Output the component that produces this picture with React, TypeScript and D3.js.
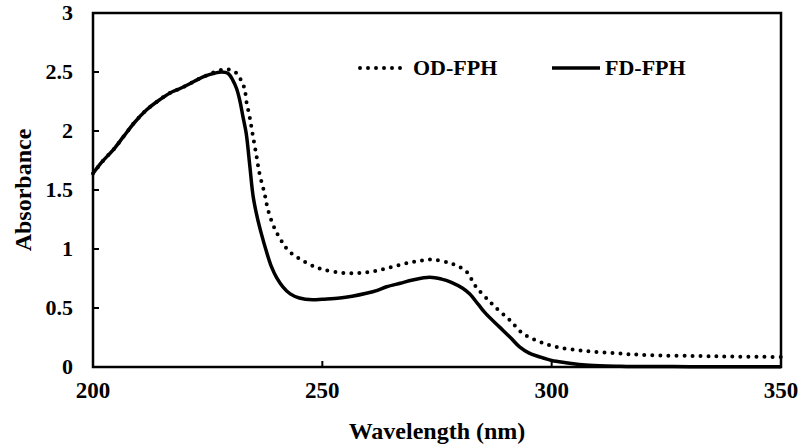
import React from "react";
import * as d3 from "d3";

const fdWavelength = [200,202,204.4,206.6,209,211.7,214,216.7,219,221.1,223,224.7,226.5,228,229.4,230.5,231.3,232,232.7,233.4,234.2,234.9,235.8,236.7,237.8,238.9,240,241.4,243,245,247.9,250,253.8,256.5,259.6,262,264,267,269.7,273.4,276,278,280.6,282.1,284,285.7,288.6,291,293,295,297.3,300,303.1,306,310.4,315,320,330,340,350];
const fdAbsorbance = [1.64,1.74,1.84,1.95,2.07,2.18,2.25,2.32,2.36,2.40,2.44,2.47,2.49,2.50,2.49,2.43,2.36,2.26,2.12,1.98,1.70,1.45,1.27,1.13,0.98,0.85,0.76,0.68,0.62,0.585,0.57,0.575,0.585,0.60,0.625,0.65,0.68,0.71,0.737,0.76,0.745,0.72,0.667,0.62,0.53,0.45,0.34,0.25,0.17,0.12,0.087,0.055,0.036,0.022,0.01,0.006,0.004,0.003,0.003,0.003];

const odWavelength = [200,202,204.4,206.6,209,211.7,214,216.7,219,221.1,223,224.7,226.5,228.3,229.8,231.3,232.4,233.1,233.4,234.2,234.9,235.6,236.3,237.4,238.1,239.2,240.3,241.4,242.5,244.3,246.2,248,249.8,253.8,257.8,261.8,265.8,269.8,273.7,277.5,279.5,281.4,283.5,286.1,287.9,290.8,293.7,297.3,301,306.8,314,321.3,331.5,340,350];
const odAbsorbance = [1.64,1.74,1.84,1.95,2.07,2.18,2.25,2.32,2.36,2.40,2.44,2.47,2.50,2.52,2.52,2.49,2.42,2.35,2.26,2.11,1.95,1.80,1.64,1.47,1.34,1.21,1.12,1.05,0.99,0.935,0.89,0.856,0.83,0.80,0.795,0.815,0.855,0.89,0.91,0.885,0.855,0.81,0.68,0.57,0.50,0.40,0.285,0.215,0.17,0.138,0.116,0.10,0.093,0.088,0.085];

const xTicks = [200, 250, 300, 350];
const yTicks = [0, 0.5, 1, 1.5, 2, 2.5, 3];
const seriesNames = ["OD-FPH", "FD-FPH"];

const W = 799, H = 445;
const left = 93, right = 781, top = 13, bottom = 367;
const FONT = "'Liberation Serif', 'Times New Roman', serif";

export default function App() {
  const x = d3.scaleLinear().domain([200, 350]).range([left, right]);
  const y = d3.scaleLinear().domain([0, 3]).range([bottom, top]);
  const line = d3.line<[number, number]>()
    .x(d => x(d[0]))
    .y(d => y(d[1]))
    .curve(d3.curveCatmullRom.alpha(0.5));
  const fd = fdWavelength.map((w, i) => [w, fdAbsorbance[i]] as [number, number]);
  const od = odWavelength.map((w, i) => [w, odAbsorbance[i]] as [number, number]);

  return (
    <svg width={W} height={H} style={{ position: "absolute", left: 0, top: 0, background: "#fff" }} fontFamily={FONT}>
      <rect x={0} y={0} width={W} height={H} fill="#fff" />
      <path d={line(od) || ""} fill="none" stroke="#000" strokeWidth={4} strokeLinecap="round" strokeDasharray="0 8" />
      <path d={line(fd) || ""} fill="none" stroke="#000" strokeWidth={3.5} strokeLinejoin="round" />
      <rect x={left} y={top} width={right - left} height={bottom - top} fill="none" stroke="#000" strokeWidth={2.5} />
      {yTicks.map(t => (
        <g key={"y" + t}>
          <line x1={left} x2={left + 6} y1={y(t)} y2={y(t)} stroke="#000" strokeWidth={2} />
          <text x={73} y={y(t) + 7} textAnchor="end" fontSize={22} fontWeight="bold">{t}</text>
        </g>
      ))}
      {xTicks.map(t => (
        <g key={"x" + t}>
          <line x1={x(t)} x2={x(t)} y1={bottom} y2={bottom - 6} stroke="#000" strokeWidth={2} />
          <text x={x(t)} y={398} textAnchor="middle" fontSize={23} fontWeight="bold">{t}</text>
        </g>
      ))}
      <text x={(left + right) / 2} y={439} textAnchor="middle" fontSize={24} fontWeight="bold">Wavelength (nm)</text>
      <text transform={`translate(31,${(top + bottom) / 2}) rotate(-90)`} textAnchor="middle" fontSize={24} fontWeight="bold">Absorbance</text>
      <line x1={360} x2={404} y1={68} y2={68} stroke="#000" strokeWidth={4} strokeLinecap="round" strokeDasharray="0 8" />
      <text x={413} y={75} fontSize={22} fontWeight="bold">{seriesNames[0]}</text>
      <line x1={552} x2={600} y1={68} y2={68} stroke="#000" strokeWidth={3.5} />
      <text x={605} y={75} fontSize={22} fontWeight="bold">{seriesNames[1]}</text>
    </svg>
  );
}
